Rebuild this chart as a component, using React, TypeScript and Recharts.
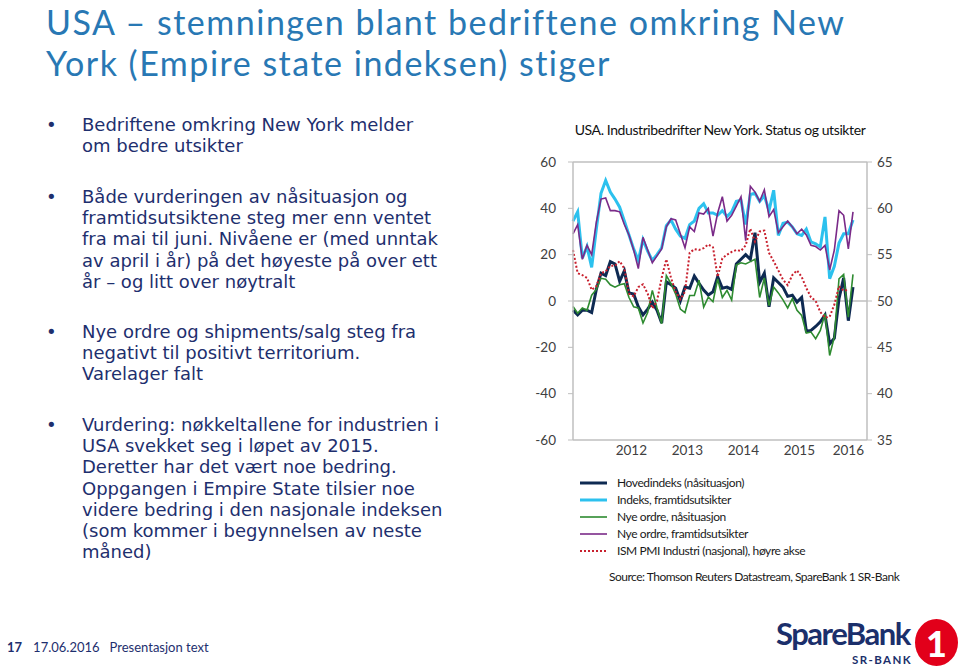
import React from 'react'
import { LineChart, Line, XAxis, YAxis, ReferenceLine } from 'recharts'

// Empire State-undersøkelsen, månedlig fra juni 2011 til juni 2016 (61 obs.)
const START_YEAR = 2011
const START_MONTH = 6

const YEARS = ['2012', '2013', '2014', '2015', '2016']

const HOVEDINDEKS = [
  -4, -6, -4, -4, -5, 5, 12, 11, 17, 16, 8.5, 13, 3.5, 3, -2.5, -6, -3.5, -0.5, -4, -9.5,
  8.3, 7, 5.5, 0, 6, 5.5, 10.8, 7.6, 4.7, 2.6, 4, 10.5, 5.5, 6, 5, 16, 18, 20, 18, 29.5,
  8, 12, -2.5, 10, 8, 6, 2, 2.5, -0.5, 1.5, -13, -12.7, -11, -9, -6, -18.5, -16, 1, 10, -8.5,
  6,
]
const FRAMTID = [
  34.5, 38.5, 18.5, 23.5, 14.5, 31, 46.5, 52, 47, 44, 40.5, 34.5, 28.5, 22.5, 17.5, 26.5, 21.5, 17.5, 20, 23,
  32.5, 35, 31, 28, 27, 33, 34.5, 40, 42, 38, 38, 37, 39, 36.5, 38.5, 43, 43.5, 33, 46, 46.5,
  43, 45.5, 39, 47.8, 28.3, 33.5, 34, 32, 29, 28.3, 31, 25.5, 24.7, 23.3, 36.3, 9.6, 15, 25, 29, 29,
  35,
]
const ORDRE_NA = [
  -2.4, -5.3, -3, -4, 2.5, 5, 9.8, 9.4, 7, 6, 7, 7.5, 1.5, -2.5, -3, -9.5, -5, 4.6, -3, -9.8,
  11, 7.5, 3, -3.5, -5, 2.4, 2.4, 9, -2.6, 1.7, -0.3, 9.5, 1.5, 4.6, 0.4, 15.5, 16.5, 16, 17, 18,
  1.5, 10, -2, 6, 3.5, 0.5, -3, 1, -4, -6.2, -13.8, -13.4, -16.3, -12.7, -5.5, -23.5, -15.5, 9.6, 11.5, -7,
  11.5,
]
const ORDRE_FRAMTID = [
  29, 33, 18, 24, 20, 34, 44, 44.5, 39, 39, 38.5, 33, 28.5, 22, 14, 27.5, 22, 16.5, 19.5, 22.5,
  32, 35.5, 35, 29, 23, 32, 30, 38, 37.5, 40, 28, 38, 45, 34.5, 37, 41, 45, 26, 49.5, 47,
  43, 48, 36.4, 39.5, 29.5, 32, 34.5, 32, 29, 31, 28.5, 24, 23.5, 22, 24, 13.4, 22, 39, 37, 22.5,
  38.5,
]
// ISM PMI (høyre akse) – juni 2016 ikke publisert
const ISM_PMI = [
  55.5, 53, 52.8, 52.5, 51.2, 51.6, 53, 53.2, 53.8, 53.8, 54.3, 53.5, 50.8, 50.5, 51.5, 51.8, 50.8, 49.2, 50, 52.5,
  54.5, 52.5, 51, 50.2, 51, 55.2, 55.6, 55.5, 55.7, 56.1, 55.8, 52.6, 54.6, 55, 55.3, 55.5, 55.4, 56, 57.8, 56.4,
  57.5, 57.6, 55.2, 54.3, 53.3, 52.3, 51.7, 52.8, 53.3, 52.6, 51.4, 50.4, 50, 48.8, 48.2, 48.3, 49.6, 51.6, 51.1, 51.2,
  null,
]

const SERIES = [
  { key: 'hoved', label: 'Hovedindeks (nåsituasjon)', values: HOVEDINDEKS, color: '#0E2A52', width: 3, dash: undefined, axis: 'left' },
  { key: 'framtid', label: 'Indeks, framtidsutsikter', values: FRAMTID, color: '#2CC1EE', width: 3, dash: undefined, axis: 'left' },
  { key: 'ordreNa', label: 'Nye ordre, nåsituasjon', values: ORDRE_NA, color: '#2E8B30', width: 1.6, dash: undefined, axis: 'left' },
  { key: 'ordreFram', label: 'Nye ordre, framtidsutsikter', values: ORDRE_FRAMTID, color: '#7A2A88', width: 1.6, dash: undefined, axis: 'left' },
  { key: 'pmi', label: 'ISM PMI Industri (nasjonal), høyre akse', values: ISM_PMI, color: '#C8202E', width: 2, dash: '2 2', axis: 'right' },
]

const X_MAX = 63
const monthIndex = (year: number, month: number) => (year - START_YEAR) * 12 + (month - START_MONTH)

const rows = HOVEDINDEKS.map((_, i) => {
  const r: Record<string, number | null> = { i }
  SERIES.forEach(s => { r[s.key] = s.values[i] })
  return r
})

// årstall midt i hvert år (2016 midt i resten av aksen)
const YEAR_TICKS = YEARS.map(y => {
  const first = monthIndex(Number(y), 1)
  return (first + Math.min(first + 11, X_MAX)) / 2
})

const NAVY_TEXT = '#1E2F6E'
const CHART_FONT = 'Lato, "Open Sans", sans-serif'
const AXIS_TICK = { fontSize: 13.5, fill: '#404040', fontFamily: CHART_FONT }
const GRID = '#BFBFBF'

const BULLETS = [
  { top: 114, lines: ['Bedriftene omkring New York melder', 'om bedre utsikter'] },
  { top: 186, lines: ['Både vurderingen av nåsituasjon og', 'framtidsutsiktene steg mer enn ventet', 'fra mai til juni. Nivåene er (med unntak', 'av april i år) på det høyeste på over ett', 'år – og litt over nøytralt'] },
  { top: 321, lines: ['Nye ordre og shipments/salg steg fra', 'negativt til positivt territorium.', 'Varelager falt'] },
  { top: 414, lines: ['Vurdering: nøkkeltallene for industrien i', 'USA svekket seg i løpet av 2015.', 'Deretter har det vært noe bedring.', 'Oppgangen i Empire State tilsier noe', 'videre bedring i den nasjonale indeksen', '(som kommer i begynnelsen av neste', 'måned)'] },
]

function Bullets() {
  return (
    <>
      {BULLETS.map((b, k) => (
        <div key={k} style={{ position: 'absolute', left: 46, top: b.top, fontFamily: '"DejaVu Sans", sans-serif', fontSize: 18, lineHeight: '21.2px', color: NAVY_TEXT }}>
          <span style={{ position: 'absolute', left: 0, top: 0 }}>•</span>
          <div style={{ marginLeft: 36, whiteSpace: 'nowrap' }}>
            {b.lines.map((l, j) => <div key={j}>{l}</div>)}
          </div>
        </div>
      ))}
    </>
  )
}

function Legend() {
  return (
    <div style={{ position: 'absolute', left: 580, top: 474, fontFamily: CHART_FONT, fontSize: 12, letterSpacing: -0.4, color: '#1a1a1a' }}>
      {SERIES.map(s => (
        <div key={s.key} style={{ display: 'flex', alignItems: 'center', height: 17 }}>
          <svg width={28} height={6} style={{ marginRight: 9 }}>
            <line x1={0} x2={27} y1={3} y2={3} stroke={s.color} strokeWidth={s.width} strokeDasharray={s.dash} />
          </svg>
          <span>{s.label}</span>
        </div>
      ))}
    </div>
  )
}

function Logo() {
  return (
    <div style={{ position: 'absolute', left: 776, top: 618, width: 184, height: 51 }}>
      <div style={{ position: 'absolute', left: 0, top: 0, fontFamily: CHART_FONT, fontWeight: 700, fontSize: 31, letterSpacing: -1.5, color: '#1B2F6B', lineHeight: '30px' }}>SpareBank</div>
      <div style={{ position: 'absolute', left: 76, top: 35, fontFamily: CHART_FONT, fontWeight: 700, fontSize: 11.5, lineHeight: '14px', letterSpacing: 1.4, color: '#1B2F6B' }}>SR-BANK</div>
      <div style={{ position: 'absolute', left: 139, top: 1, width: 43, height: 47, borderRadius: '50%', background: '#E2001A', display: 'flex', alignItems: 'center', justifyContent: 'center' }}>
        <span style={{ fontFamily: CHART_FONT, fontWeight: 900, fontSize: 36, color: '#fff', lineHeight: 1 }}>1</span>
      </div>
    </div>
  )
}

export default function App() {
  return (
    <div style={{ position: 'absolute', left: 0, top: 0, width: 960, height: 669, background: '#fff', overflow: 'hidden' }}>
      <div style={{ position: 'absolute', left: 46, top: 1, fontFamily: CHART_FONT, fontSize: 34, lineHeight: '41px', letterSpacing: 1.5, color: '#2878B4', whiteSpace: 'nowrap' }}>
        <div>USA – stemningen blant bedriftene omkring New</div>
        <div>York (Empire state indeksen) stiger</div>
      </div>

      <Bullets />

      <div style={{ position: 'absolute', left: 520, top: 121, width: 400, textAlign: 'center', fontFamily: CHART_FONT, fontSize: 14, color: '#111', letterSpacing: -0.4 }}>
        USA. Industribedrifter New York. Status og utsikter
      </div>

      <div style={{ position: 'absolute', left: 500, top: 140 }}>
        <LineChart width={420} height={330} data={rows} margin={{ top: 22, right: 13, left: 13, bottom: 5 }}>
          <XAxis dataKey="i" type="number" domain={[0, X_MAX]} ticks={YEAR_TICKS}
            tickFormatter={(v) => YEARS[YEAR_TICKS.indexOf(v)]}
            tick={AXIS_TICK} tickLine={false} tickSize={0} tickMargin={5} height={25}
            axisLine={{ stroke: GRID, strokeWidth: 1.5 }} />
          <YAxis yAxisId="left" domain={[-60, 60]} ticks={[-60, -40, -20, 0, 20, 40, 60]} width={60}
            tick={AXIS_TICK} tickSize={5} tickMargin={12} tickLine={{ stroke: GRID }}
            axisLine={{ stroke: GRID, strokeWidth: 1.5 }} />
          <YAxis yAxisId="right" orientation="right" domain={[35, 65]} ticks={[35, 40, 45, 50, 55, 60, 65]} width={40}
            tick={{ ...AXIS_TICK, textAnchor: 'start' }} tickSize={5} tickMargin={5} tickLine={{ stroke: GRID }}
            axisLine={{ stroke: GRID, strokeWidth: 1.5 }} />
          <ReferenceLine yAxisId="left" y={60} stroke={GRID} strokeWidth={1.5} />
          <ReferenceLine yAxisId="left" y={0} stroke={GRID} strokeWidth={1.5} />
          {SERIES.map(s => (
            <Line key={s.key} yAxisId={s.axis} dataKey={s.key} type="linear" stroke={s.color}
              strokeWidth={s.width} strokeDasharray={s.dash} dot={false} activeDot={false}
              isAnimationActive={false} />
          ))}
        </LineChart>
      </div>

      <Legend />

      <div style={{ position: 'absolute', left: 609, top: 569, fontFamily: CHART_FONT, fontSize: 12, letterSpacing: -0.5, color: '#1a1a1a', whiteSpace: 'nowrap' }}>
        Source: Thomson Reuters Datastream, SpareBank 1 SR-Bank
      </div>

      <div style={{ position: 'absolute', left: 7, top: 639, fontFamily: CHART_FONT, fontSize: 13, color: NAVY_TEXT, whiteSpace: 'nowrap' }}>
        <b>17</b>
        <span style={{ marginLeft: 11 }}>17.06.2016</span>
        <span style={{ marginLeft: 10 }}>Presentasjon text</span>
      </div>

      <Logo />
    </div>
  )
}
